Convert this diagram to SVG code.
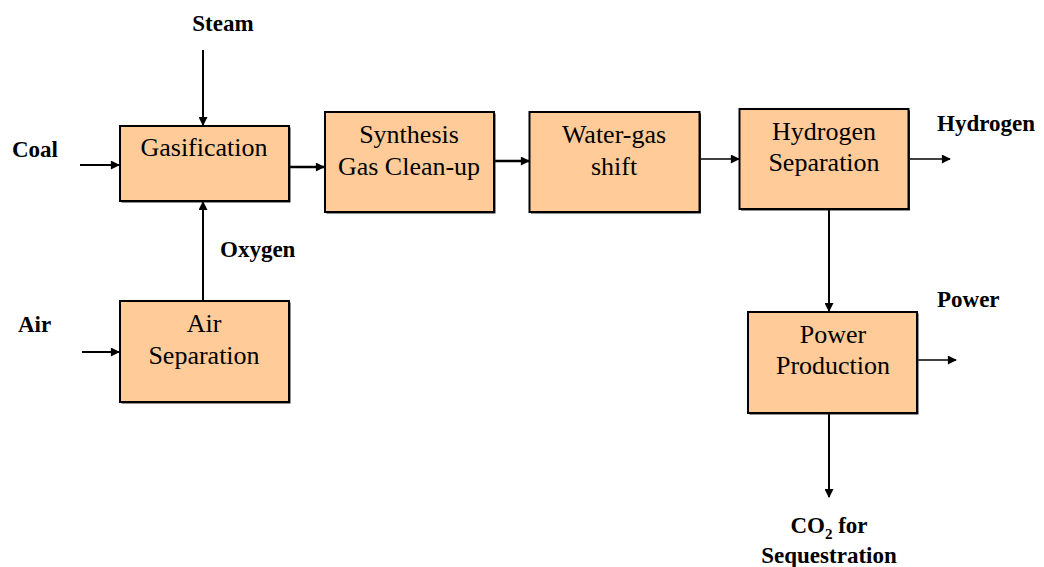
<svg xmlns="http://www.w3.org/2000/svg" width="1044" height="567" viewBox="0 0 1044 567">
<defs>
<marker id="ah" viewBox="0 0 10 10" refX="9" refY="5" markerWidth="10" markerHeight="9" orient="auto" markerUnits="userSpaceOnUse">
<path d="M0,0 L10,5 L0,10 z" fill="#000"/>
</marker>
</defs>
<rect width="1044" height="567" fill="#fff"/>
<g id="connectors" stroke="#000" fill="none" marker-end="url(#ah)">
<line stroke-width="2" x1="203" y1="50" x2="203" y2="125"/>
<line stroke-width="2" x1="80" y1="165" x2="119" y2="165"/>
<line stroke-width="2.5" x1="289" y1="167" x2="324" y2="167"/>
<line stroke-width="2" x1="203" y1="301" x2="203" y2="202"/>
<line stroke-width="2" x1="82" y1="352" x2="119" y2="352"/>
<line stroke-width="2.5" x1="494" y1="161" x2="529" y2="161"/>
<line stroke-width="1.5" x1="700" y1="159" x2="739" y2="159"/>
<line stroke-width="1.5" x1="909" y1="159" x2="950" y2="159"/>
<line stroke-width="2" x1="829" y1="209" x2="829" y2="311"/>
<line stroke-width="1.5" x1="917" y1="360" x2="956" y2="360"/>
<line stroke-width="2" x1="829" y1="413" x2="829" y2="497"/>
</g>
<g font-family="Liberation Serif, Times New Roman, serif" font-size="26" text-anchor="middle" fill="#000">
<g id="gasification">
<rect fill="#222" x="121.5" y="127.5" width="169" height="75"/>
<rect fill="#FFCC99" stroke="#000" stroke-width="2" x="120" y="126" width="169" height="75"/>
<text x="204" y="156">Gasification</text>
</g>
<g id="synthesis">
<rect fill="#222" x="326.5" y="113.5" width="169" height="100"/>
<rect fill="#FFCC99" stroke="#000" stroke-width="2" x="325" y="112" width="169" height="100"/>
<text x="409" y="143">Synthesis</text>
<text x="409" y="175">Gas Clean-up</text>
</g>
<g id="watergas">
<rect fill="#222" x="531" y="113.5" width="170" height="100"/>
<rect fill="#FFCC99" stroke="#000" stroke-width="2" x="529.5" y="112" width="170" height="100"/>
<text x="614" y="143">Water-gas</text>
<text x="614" y="175">shift</text>
</g>
<g id="hydrogensep">
<rect fill="#222" x="741" y="110.5" width="169" height="100"/>
<rect fill="#FFCC99" stroke="#000" stroke-width="2" x="739.5" y="109" width="169" height="100"/>
<text x="824" y="140">Hydrogen</text>
<text x="824" y="171">Separation</text>
</g>
<g id="airsep">
<rect fill="#222" x="121.5" y="302.5" width="169" height="101"/>
<rect fill="#FFCC99" stroke="#000" stroke-width="2" x="120" y="301" width="169" height="101"/>
<text x="204" y="332">Air</text>
<text x="204" y="364">Separation</text>
</g>
<g id="power">
<rect fill="#222" x="749.5" y="313.5" width="169" height="101"/>
<rect fill="#FFCC99" stroke="#000" stroke-width="2" x="748" y="312" width="169" height="101"/>
<text x="833" y="343">Power</text>
<text x="833" y="374">Production</text>
</g>
</g>
<g id="labels" font-family="Liberation Serif, Times New Roman, serif" font-size="23" font-weight="bold" fill="#000">
<text x="223" y="31" text-anchor="middle">Steam</text>
<text x="12" y="157">Coal</text>
<text x="220" y="257">Oxygen</text>
<text x="18" y="332">Air</text>
<text x="937" y="131">Hydrogen</text>
<text x="937" y="307">Power</text>
<text x="829" y="533" text-anchor="middle">CO<tspan font-size="15" dy="6">2</tspan><tspan dy="-6"> for</tspan></text>
<text x="829" y="563" text-anchor="middle">Sequestration</text>
</g>
</svg>
